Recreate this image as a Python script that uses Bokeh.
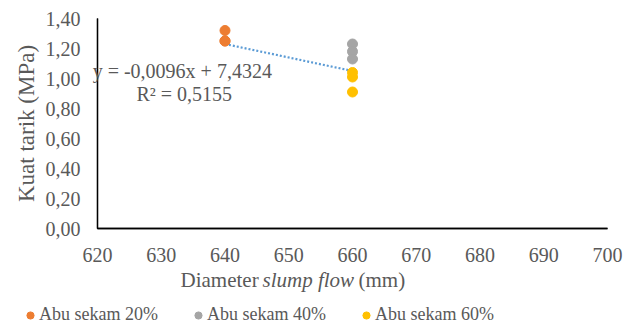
from bokeh.plotting import figure
from bokeh.models import Range1d, FixedTicker, Label, Legend, LegendItem
from bokeh.embed import file_html
from bokeh.resources import INLINE

# data
x20 = [640, 640, 640]
y20 = [1.32, 1.25, 1.25]
x40 = [660, 660, 660]
y40 = [1.23, 1.18, 1.13]
x60 = [660, 660, 660]
y60 = [1.04, 1.01, 0.91]
series_names = ["Abu sekam 20%", "Abu sekam 40%", "Abu sekam 60%"]
series_colors = ["#ED7D31", "#A5A5A5", "#FFC000"]
trend_x = [640, 660]
trend_y = [1.23, 1.05]
equation_text = "y = -0,0096x + 7,4324"
r2_text = "R² = 0,5155"
x_title_parts = ["Diameter", "slump flow", "(mm)"]
y_title = "Kuat tarik (MPa)"
x_ticks = [620, 630, 640, 650, 660, 670, 680, 690, 700]
y_ticks = [0.0, 0.2, 0.4, 0.6, 0.8, 1.0, 1.2, 1.4]
y_tick_labels = ["0,00", "0,20", "0,40", "0,60", "0,80", "1,00", "1,20", "1,40"]
x_min, x_max = 620, 700
y_min, y_max = 0.0, 1.4

FONT = "Liberation Serif"
GREY = "#595959"

# canvas layout (pixels): plot area spans x 97..607, y 18..228 in a 633x325 canvas
W, H = 633, 325
L, R, T, B = 97, 607, 18, 228
kx = (R - L) / (x_max - x_min)
ky = (B - T) / (y_max - y_min)
x_range = Range1d(x_min - L / kx, x_max + (W - R) / kx)
y_range = Range1d(y_min - (H - B) / ky, y_max + T / ky)

p = figure(width=W, height=H, output_backend="svg", toolbar_location=None,
           x_range=x_range, y_range=y_range, min_border=0)
p.outline_line_color = None
p.background_fill_color = "white"
p.xgrid.visible = False
p.ygrid.visible = False

p.xaxis.fixed_location = y_min
p.yaxis.fixed_location = x_min
p.xaxis.bounds = (x_min, x_max)
p.yaxis.bounds = (y_min, y_max)

for ax in (p.xaxis[0], p.yaxis[0]):
    ax.major_tick_out = 0
    ax.major_tick_in = 0
    ax.minor_tick_out = 0
    ax.minor_tick_in = 0
    ax.axis_line_color = "black"
    ax.axis_line_width = 1.3
    ax.major_label_text_font = FONT
    ax.major_label_text_font_size = "20px"
    ax.major_label_text_color = GREY

p.xaxis.ticker = FixedTicker(ticks=x_ticks)
p.yaxis.ticker = FixedTicker(ticks=y_ticks)
p.yaxis.major_label_overrides = {t: l for t, l in zip(y_ticks, y_tick_labels)}
p.xaxis.major_label_standoff = 19
p.yaxis.major_label_standoff = 17

p.yaxis.axis_label = y_title
p.yaxis.axis_label_text_font = FONT
p.yaxis.axis_label_text_font_size = "23px"
p.yaxis.axis_label_text_font_style = "normal"
p.yaxis.axis_label_text_color = GREY
p.yaxis.axis_label_standoff = 4

# axis baselines as one L-shaped path (non-degenerate bounding box)
p.line([x_min, x_min, x_max], [y_max, y_min, y_min], line_color="black", line_width=1.3)

# trend line
p.line(trend_x, trend_y, line_color="#5B9BD5", line_width=2.2, line_dash="2 2")

renderers = []
for xs, ys, c in zip([x20, x40, x60], [y20, y40, y60], series_colors):
    renderers.append(p.scatter(xs, ys, size=10, fill_color=c, line_color=c))

for txt, xx, yy in [(equation_text, 633.3, 1.047), (r2_text, 633.6, 0.90)]:
    p.add_layout(Label(x=xx, y=yy, text=txt, text_font=FONT, text_font_size="20px",
                       text_color=GREY, text_align="center", text_baseline="middle"))

# x-axis title with an italic part (screen units from the canvas bottom-left)
for txt, xx, style in zip(x_title_parts, [180, 262, 358], ["normal", "italic", "normal"]):
    p.add_layout(Label(x=xx, y=H - 279, x_units="screen", y_units="screen", text=txt,
                       text_font=FONT, text_font_size="21px",
                       text_color=GREY, text_align="left", text_baseline="middle",
                       text_font_style=style))

items = [LegendItem(label=n, renderers=[r]) for n, r in zip(series_names, renderers)]
legend = Legend(items=items, orientation="horizontal", location=(21, 0),
                label_text_font=FONT, label_text_font_size="18px", label_text_color=GREY,
                glyph_width=18, glyph_height=18, label_standoff=0, spacing=31,
                padding=0, margin=0, border_line_color=None, background_fill_alpha=0)
p.add_layout(legend, "center")

open("out.html", "w").write(file_html(p, INLINE))
